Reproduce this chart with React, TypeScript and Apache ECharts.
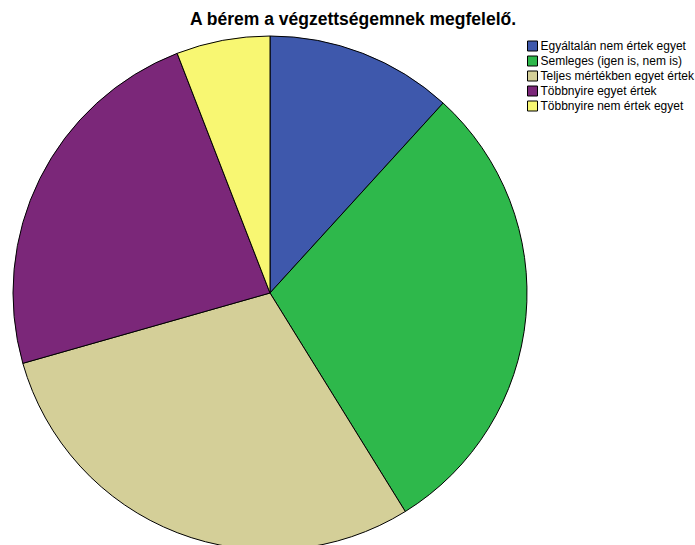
import React, { useEffect, useRef } from "react";
import * as echarts from "echarts";

const title = "A bérem a végzettségemnek megfelelő.";
const categories = [
  "Egyáltalán nem értek egyet",
  "Semleges (igen is, nem is)",
  "Teljes mértékben egyet értek",
  "Többnyire egyet értek",
  "Többnyire nem értek egyet",
];
const values = [2, 5, 5, 4, 1];
const colors = ["#3e58ac", "#2eb84b", "#d4cf98", "#7b2779", "#f8f772"];

export default function App() {
  const ref = useRef<HTMLDivElement>(null);
  useEffect(() => {
    if (!ref.current) return;
    const chart = echarts.init(ref.current, null, { renderer: "svg" });
    chart.setOption({
      animation: false,
      backgroundColor: "#ffffff",
      title: {
        text: title,
        left: 353,
        top: 10,
        textAlign: "center",
        padding: 0,
        textStyle: {
          fontFamily: "Liberation Sans, Arial, sans-serif",
          fontSize: 17.5,
          fontWeight: "bold",
          color: "#000",
        },
      },
      legend: {
        orient: "vertical",
        left: 527,
        top: 40,
        itemWidth: 10,
        itemHeight: 10,
        itemGap: 3,
        icon: "rect",
        padding: 0,
        selectedMode: false,
        itemStyle: { borderColor: "#000", borderWidth: 1 },
        textStyle: {
          fontFamily: "Liberation Sans, Arial, sans-serif",
          fontSize: 12,
          color: "#000",
          padding: [0, 0, 0, -2],
        },
        data: categories,
      },
      series: [
        {
          type: "pie",
          center: [270, 293],
          radius: 257,
          startAngle: 90,
          clockwise: true,
          label: { show: false },
          labelLine: { show: false },
          emphasis: { disabled: true },
          itemStyle: { borderColor: "#000", borderWidth: 1 },
          data: categories.map((name, i) => ({
            name,
            value: values[i],
            itemStyle: { color: colors[i] },
          })),
        },
      ],
    });
    return () => chart.dispose();
  }, []);
  return (
    <div
      ref={ref}
      style={{ position: "fixed", left: 0, top: 0, width: 695, height: 545 }}
    />
  );
}
